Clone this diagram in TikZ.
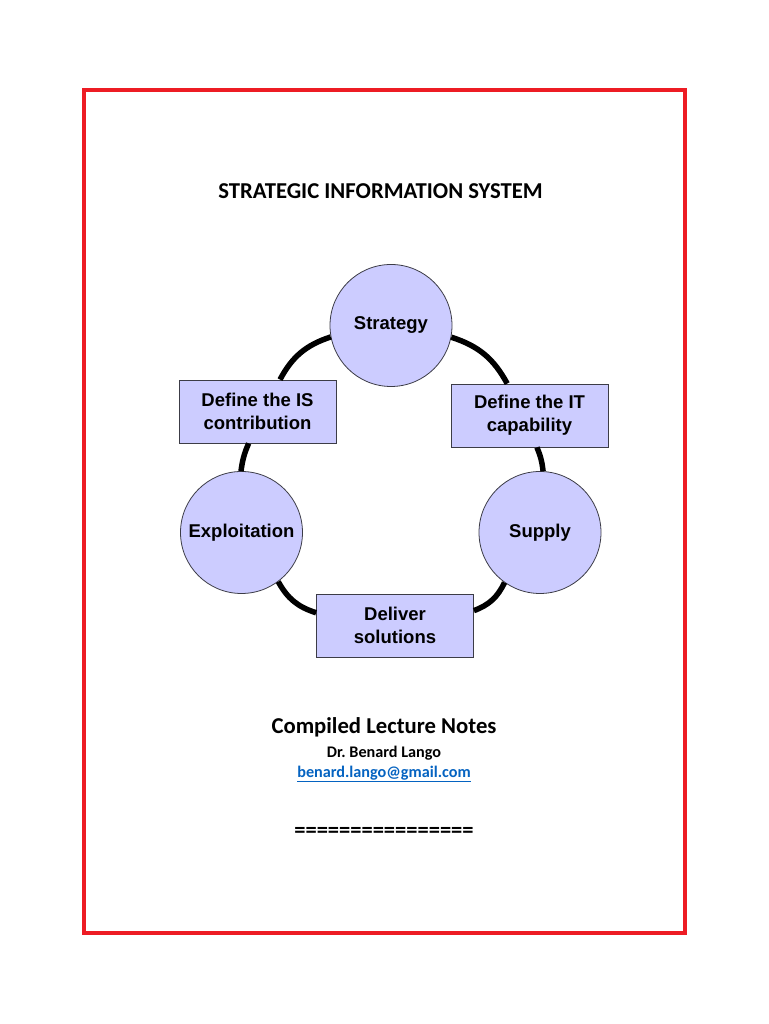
\documentclass[tikz,border=0pt]{standalone}
\usepackage{fontspec}
\setmainfont{Carlito}
\newfontfamily\diagfont{Liberation Sans}
\definecolor{lav}{RGB}{204,204,255}
\definecolor{edge}{RGB}{60,60,70}
\definecolor{linkblue}{RGB}{5,99,193}
\definecolor{framered}{RGB}{237,28,36}
\begin{document}
\begin{tikzpicture}[x=1pt,y=1pt,
  circ/.style={circle,draw=edge,line width=0.8pt,fill=lav,minimum size=122pt,inner sep=0pt,
    font=\diagfont\bfseries\fontsize{18.5}{23}\selectfont},
  rbox/.style={rectangle,draw=edge,line width=0.8pt,fill=lav,minimum width=157pt,minimum height=63pt,
    inner sep=0pt,align=center,font=\diagfont\bfseries\fontsize{18.5}{23}\selectfont},
  ring/.style={line width=5.5pt,black},
  txt/.style={inner sep=0pt,align=center}]
\useasboundingbox (0,0) rectangle (768,1024);
\fill[white] (0,0) rectangle (768,1024);
\draw[framered,line width=4pt] (83.5,90.5) rectangle (684.5,934);

\node[txt,font=\bfseries\fontsize{22.7}{26}\selectfont] (title) at (380.5,832.5) {STRATEGIC INFORMATION SYSTEM};

% diagram nodes
\node[circ] (strategy) at (391,698.5) {Strategy};
\node[rbox] (isbox) at (257.5,612.5) {Define the IS\\contribution};
\node[rbox] (itbox) at (529.5,608.5) {Define the IT\\capability};
\node[circ] (exploit) at (241.5,491.5) {Exploitation};
\node[circ] (supply) at (540,491.5) {Supply};
\node[rbox] (deliver) at (395,398.5) {Deliver\\solutions};

% ring connectors
\draw[ring] (strategy) to[bend left=22] (itbox);
\draw[ring] (itbox) to[bend left=8] (supply);
\draw[ring] (supply) to[bend left=22] (deliver);
\draw[ring] (deliver) to[bend left=22] (exploit);
\draw[ring] (exploit) to[bend left=8] (isbox);
\draw[ring] (isbox) to[bend left=22] (strategy);

\node[txt,font=\bfseries\fontsize{22.7}{26}\selectfont] (notes) at (384,297) {Compiled Lecture Notes};
\node[txt,font=\bfseries\fontsize{16.2}{19}\selectfont] (author) at (384,271) {Dr.\ Benard Lango};
\node[txt,font=\bfseries\fontsize{16.2}{19}\selectfont,text=linkblue] (email) at (384,250) {\underline{benard.lango@gmail.com}};
\node[txt,font=\bfseries\fontsize{22.5}{26}\selectfont] (rule) at (384,192) {================};
\end{tikzpicture}
\end{document}
